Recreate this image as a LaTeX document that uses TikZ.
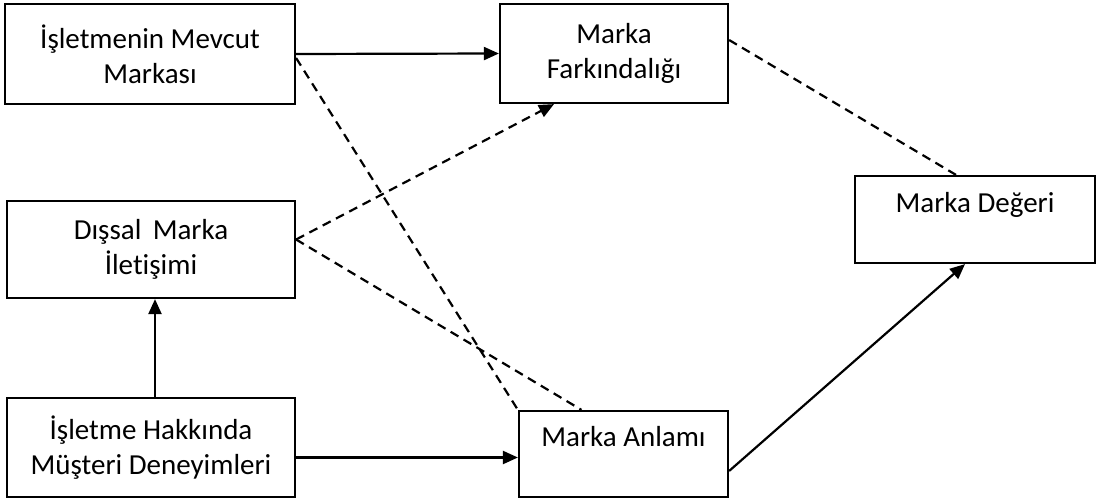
\documentclass[tikz,border=0pt]{standalone}
\usepackage{fontspec}
\setmainfont{Carlito}[Ligatures=NoCommon]
\usetikzlibrary{arrows.meta}
\begin{document}
\begin{tikzpicture}[x=1pt,y=-1pt,
  box/.style={draw, line width=2.2pt, align=center, inner sep=0pt,
    font=\fontsize{29}{35}\selectfont},
  arr/.style={line width=2.2pt, -{Triangle[length=15pt,width=13pt]}},
  dsh/.style={line width=2.2pt, dash pattern=on 9pt off 6pt},
  darr/.style={dsh, -{Triangle[length=15pt,width=13pt]}}]
\useasboundingbox (0,0) rectangle (1096,500);
\node[box, minimum width=290pt, minimum height=100pt] (b1) at (150,54) {İşletmenin Mevcut\\Markası};
\node[box, minimum width=228pt, minimum height=99pt] (b2) at (614,53.5) {Marka\\Farkındalığı};
\node[box, minimum width=240pt, minimum height=87pt] (b3) at (975,219.5) {Marka Değeri\\~};
\node[box, minimum width=288pt, minimum height=97pt] (b4) at (151,249.5) {Dışsal\, Marka\\İletişimi};
\node[box, minimum width=288pt, minimum height=99pt] (b5) at (151,447.5) {İşletme Hakkında\\Müşteri Deneyimleri};
\node[box, minimum width=209pt, minimum height=86pt] (b6) at (623.5,454) {Marka Anlamı\\~};
% solid connectors
\draw[arr] (b1.east) -- (b2.west);
\draw[arr] ([xshift=4pt]b5.north) -- ([xshift=4pt]b4.south);
\coordinate (p) at ([yshift=-10pt]b5.east);
\draw[arr] (p) -- (p -| b6.west);
\draw[arr] ([yshift=-17pt]b6.east) -- ([xshift=-10pt]b3.south);
% dashed connectors
\draw[dsh] ([yshift=-4pt]b1.east) -- (b6.north west);
\draw[darr] ([yshift=10pt]b4.east) -- ([xshift=-60pt]b2.south);
\draw[dsh] ([yshift=10pt]b4.east) -- ([xshift=-42pt]b6.north);
\draw[dsh] ([yshift=13.5pt]b2.east) -- ([xshift=-19pt]b3.north);
\end{tikzpicture}
\end{document}
